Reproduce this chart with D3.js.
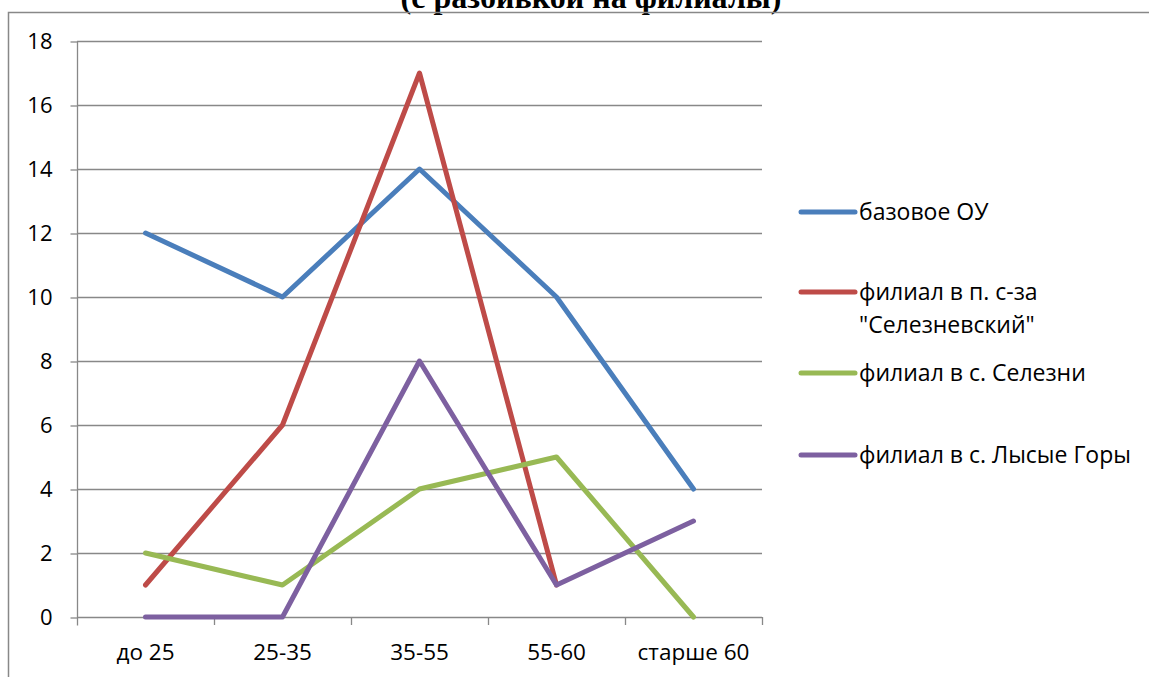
<!DOCTYPE html>
<html lang="ru">
<head>
<meta charset="utf-8">
<title>Возрастной состав</title>
<script src="https://d3js.org/d3.v7.min.js"></script>
<style>
  body { margin: 0; background: #fff; }
  svg { display: block; }
  .tick text { font-family: "Open Sans", sans-serif; }
</style>
</head>
<body>
<div id="chart"></div>
<script>
// data
var categories = ["до 25", "25-35", "35-55", "55-60", "старше 60"];
var seriesNames = ["базовое ОУ", "филиал в п. с-за \"Селезневский\"", "филиал в с. Селезни", "филиал в с. Лысые Горы"];
var bazovoe = [12, 10, 14, 10, 4];
var seleznevsky = [1, 6, 17, 1, null];
var selezni = [2, 1, 4, 5, 0];
var lysyeGory = [0, 0, 8, 1, 3];
var yTicks = [0, 2, 4, 6, 8, 10, 12, 14, 16, 18];
var colors = ["#4a7ebb", "#be4b48", "#98b954", "#7d60a0"];

var width = 1149, height = 677;
var svg = d3.select("#chart").append("svg")
    .attr("width", width)
    .attr("height", height);

// title, cut off at the top of the picture
svg.append("text")
    .attr("x", 591)
    .attr("y", 8)
    .attr("text-anchor", "middle")
    .style("font-family", "'Liberation Serif', serif")
    .style("font-weight", "bold")
    .style("font-size", "32px")
    .text("(с разбивкой на филиалы)");

// chart frame
svg.append("path")
    .attr("d", "M8.5," + height + "V12.5H" + width)
    .attr("fill", "none")
    .attr("stroke", "#888")
    .attr("stroke-width", 1.5);

var plotLeft = 77, plotRight = 762, plotTop = 41, plotBottom = 617;

var x = d3.scaleBand().domain(categories).range([plotLeft, plotRight]);
var y = d3.scaleLinear().domain([0, 18]).range([plotBottom, plotTop]);

// grid
svg.append("g").selectAll("line")
    .data(yTicks.slice(1))
    .join("line")
    .attr("x1", plotLeft).attr("x2", plotRight)
    .attr("y1", d => Math.round(y(d)) + 0.5)
    .attr("y2", d => Math.round(y(d)) + 0.5)
    .attr("stroke", "#888")
    .attr("stroke-width", 1.3);

// y axis
var yAxis = svg.append("g")
    .attr("transform", "translate(" + (plotLeft + 0.5) + ",0.5)")
    .call(d3.axisLeft(y).tickValues(yTicks).tickSize(7).tickPadding(18));
yAxis.selectAll("line, path").attr("stroke", "#888").attr("stroke-width", 1.3);
yAxis.select(".domain").attr("d", "M0," + plotTop + "V" + (plotBottom + 8));
yAxis.selectAll("text").style("font-size", "22px").attr("fill", "#000");

// x axis, ticks between categories
var xAxis = svg.append("g")
    .attr("transform", "translate(0," + (plotBottom + 0.5) + ")")
    .call(d3.axisBottom(x).tickSize(0).tickPadding(27));
xAxis.select(".domain").attr("stroke", "#888").attr("stroke-width", 1.3)
    .attr("d", "M" + plotLeft + ",0H" + plotRight);
xAxis.selectAll("text").style("font-size", "22.5px").attr("fill", "#000");
svg.append("g").selectAll("line")
    .data(categories.map((c, i) => i + 1))
    .join("line")
    .attr("x1", i => Math.round(plotLeft + i * x.step()) + 0.5)
    .attr("x2", i => Math.round(plotLeft + i * x.step()) + 0.5)
    .attr("y1", plotBottom).attr("y2", plotBottom + 8)
    .attr("stroke", "#888").attr("stroke-width", 1.3);

// lines
var allSeries = [bazovoe, seleznevsky, selezni, lysyeGory];
var line = d3.line()
    .defined(d => d != null)
    .x((d, i) => x(categories[i]) + x.bandwidth() / 2)
    .y(d => y(d));

svg.append("g").selectAll("path")
    .data(allSeries)
    .join("path")
    .attr("d", line)
    .attr("fill", "none")
    .attr("stroke", (d, i) => colors[i])
    .attr("stroke-width", 5)
    .attr("stroke-linejoin", "round")
    .attr("stroke-linecap", "round");

// legend
var legendY = [212, 292, 373, 455];
var legend = svg.append("g").selectAll("g")
    .data(seriesNames)
    .join("g")
    .attr("transform", (d, i) => "translate(801," + legendY[i] + ")");
legend.append("line")
    .attr("x1", 0).attr("x2", 54)
    .attr("stroke", (d, i) => colors[i])
    .attr("stroke-width", 5)
    .attr("stroke-linecap", "round");
legend.append("text")
    .attr("x", 58)
    .attr("y", 8)
    .style("font-family", "'Open Sans', sans-serif")
    .style("font-size", "23px")
    .each(function(d) {
      var parts = d.indexOf("\"") > 0 ? [d.slice(0, d.indexOf(" \"")), d.slice(d.indexOf(" \"") + 1)] : [d];
      d3.select(this).selectAll("tspan")
        .data(parts)
        .join("tspan")
        .attr("x", 58)
        .attr("dy", (p, j) => j ? 33 : 0)
        .text(p => p);
    });
</script>
</body>
</html>
